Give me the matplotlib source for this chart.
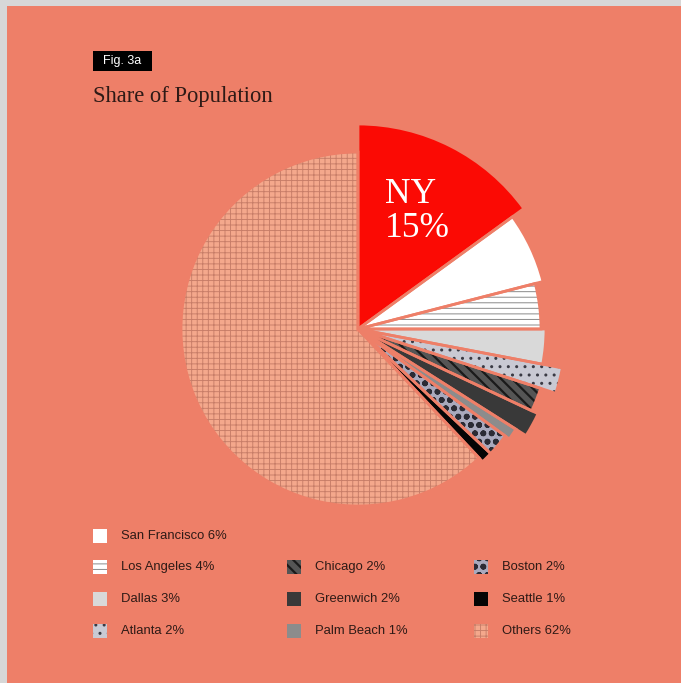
import matplotlib
matplotlib.use("Agg")
import matplotlib.pyplot as plt
from matplotlib.patches import Wedge, Rectangle

# ---------------------------------------------------------
# DATA
# ---------------------------------------------------------
cities = ["NY", "San Francisco", "Los Angeles", "Dallas", "Atlanta", "Chicago",
          "Greenwich", "Palm Beach", "Boston", "Seattle", "Others"]
shares = [15, 6, 4, 3, 2, 2, 2, 1, 2, 1, 62]

legend_rows = [["San Francisco", None, None],
               ["Los Angeles", "Chicago", "Boston"],
               ["Dallas", "Greenwich", "Seattle"],
               ["Atlanta", "Palm Beach", "Others"]]

# ---------------------------------------------------------
# STYLE
# ---------------------------------------------------------
W, H = 681, 683
BG = "#ee7f68"
BORDER = "#d7d7d7"
TEXT = "#2e1a16"

face = {"NY": "#fb0a04", "San Francisco": "#ffffff", "Los Angeles": "#ffffff",
        "Dallas": "#d9d9d9", "Atlanta": "#c9c9d3", "Chicago": "#555555",
        "Greenwich": "#393939", "Palm Beach": "#8c8c8c", "Boston": "#a9a9bd",
        "Seattle": "#050505", "Others": "#f4a88c"}
# hatch pattern, hatch colour, hatch line width
hatch = {"Los Angeles": ("---", "#8a8a8a", 0.7), "Atlanta": ("..", "#3a3a44", 1.0),
         "Chicago": ("\\\\\\", "#1a1a1a", 1.6), "Boston": ("oo", "#2b2b35", 1.8),
         "Others": ("+++", "#c77d68", 0.65)}
# outer radius of each slice in pixels (the slices stick out by different amounts)
radii = [205, 191, 183, 188, 208, 192, 199, 187, 182, 182, 177]
cx, cy = 358, 329


def hatched(patch, c):
    h, hc, lw = hatch[c]
    patch.set_hatch(h)
    patch.set_edgecolor(hc)
    if hasattr(patch, "set_hatch_linewidth"):
        patch.set_hatch_linewidth(lw)
    return patch


fig = plt.figure(figsize=(W / 100, H / 100), dpi=100, facecolor=BORDER)
ax = fig.add_axes([0, 0, 1, 1])
ax.add_patch(Rectangle((7, 0), W - 7, H - 6, facecolor=BG, edgecolor="none", zorder=0))

# base pie
wedges, _ = ax.pie(shares, colors=[face[c] for c in cities], startangle=90,
                   counterclock=False, center=(cx, H - cy), radius=177,
                   wedgeprops=dict(linewidth=0))
for w, r in zip(wedges, radii):
    w.set_radius(r)
    w.set_zorder(2)

# hatch overlays + gaps between slices
for w, c in zip(wedges, cities):
    if c in hatch:
        ax.add_patch(hatched(Wedge(w.center, w.r, w.theta1, w.theta2, facecolor="none",
                                   linewidth=0, zorder=3), c))
    ax.add_patch(Wedge(w.center, w.r, w.theta1, w.theta2, facecolor="none",
                       edgecolor=BG, linewidth=2.0, zorder=4))

# NY label
ax.text(385, H - 203, "NY", color="white", fontsize=25.5, family="Liberation Serif",
        ha="left", va="baseline", zorder=5)
ax.text(385, H - 237, "15%", color="white", fontsize=25.5, family="Liberation Serif",
        ha="left", va="baseline", zorder=5)

# header
ax.add_patch(Rectangle((93, H - 71), 59, 20, facecolor="black", edgecolor="none"))
ax.text(122.5, H - 61, "Fig. 3a", color="white", fontsize=9, family="Liberation Sans",
        ha="center", va="center", zorder=5)
ax.text(93, H - 102, "Share of Population", color=TEXT, fontsize=16.3,
        family="Liberation Serif", ha="left", va="baseline")

# legend
col_x = [93, 287, 474]
row_y = [536, 567, 599, 631]
for i, row in enumerate(legend_rows):
    for j, c in enumerate(row):
        if c is None:
            continue
        x, y = col_x[j], H - row_y[i]
        ax.add_patch(Rectangle((x, y - 7), 14, 14, facecolor=face[c],
                               edgecolor="none", zorder=3))
        if c in hatch:
            ax.add_patch(hatched(Rectangle((x, y - 7), 14, 14, facecolor="none",
                                           linewidth=0, zorder=4), c))
        ax.text(x + 28, y, f"{c} {shares[cities.index(c)]}%", color=TEXT,
                fontsize=9.4, family="Liberation Sans", ha="left", va="center")

ax.set_xlim(0, W)
ax.set_ylim(0, H)
ax.set_aspect("equal")
ax.axis("off")

plt.savefig("out.png", dpi=100, facecolor=BORDER)
